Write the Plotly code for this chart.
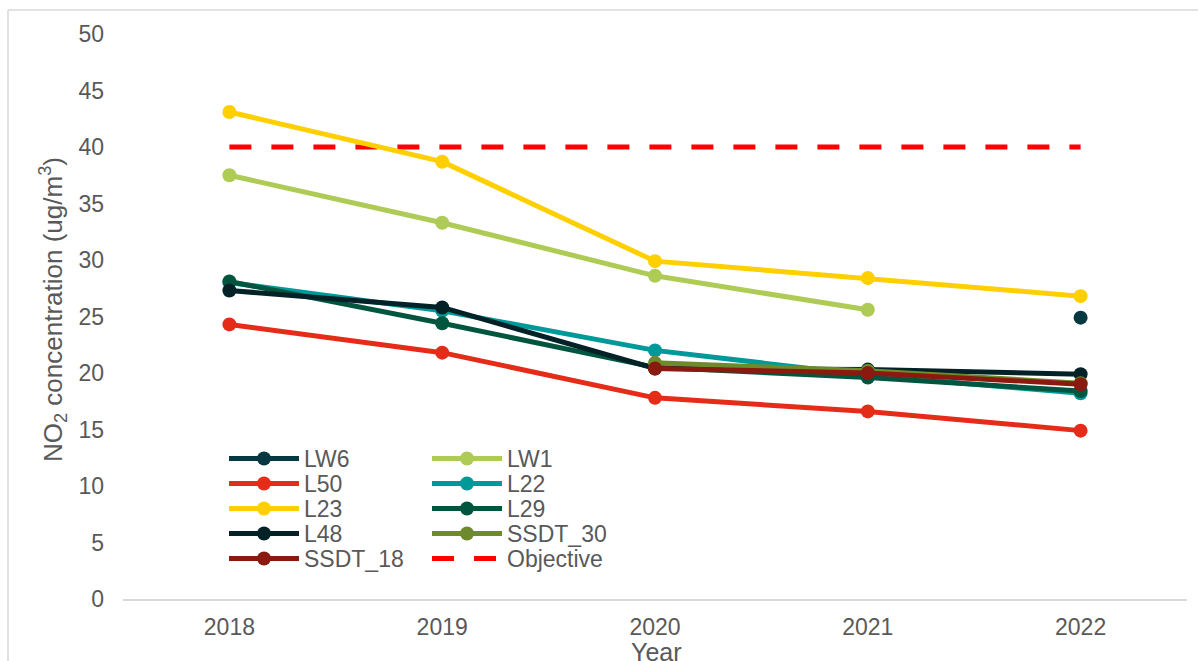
import plotly.graph_objects as go

# Annual mean NO2 at each monitoring site
years = ["2018", "2019", "2020", "2021", "2022"]
lw6 = [None, None, None, None, 24.9]
lw1 = [37.5, 33.3, 28.6, 25.6, None]
l50 = [24.3, 21.8, 17.8, 16.6, 14.9]
l22 = [28.0, 25.5, 22.0, 19.8, 18.2]
l23 = [43.1, 38.7, 29.9, 28.4, 26.8]
l29 = [28.1, 24.4, 20.5, 19.6, 18.4]
l48 = [27.3, 25.8, 20.4, 20.3, 19.9]
ssdt_30 = [None, None, 20.9, 20.2, 19.1]
ssdt_18 = [None, None, 20.4, 20.0, 19.0]
objective = [40, 40, 40, 40, 40]

series = [
    ("LW6", lw6, "#053840"),
    ("LW1", lw1, "#AECB55"),
    ("L50", l50, "#E42C19"),
    ("L22", l22, "#00999A"),
    ("L23", l23, "#FFCF00"),
    ("L29", l29, "#00553F"),
    ("L48", l48, "#022227"),
    ("SSDT_30", ssdt_30, "#6E8B2B"),
    ("SSDT_18", ssdt_18, "#8A1A10"),
]

# two entries per legend row
legend_ids = ["legend", "legend", "legend2", "legend2", "legend3", "legend3",
              "legend4", "legend4", "legend5"]

fig = go.Figure()

# Target line drawn first so the site lines sit over it
fig.add_trace(go.Scatter(
    x=years, y=objective, name="Objective", mode="lines",
    line=dict(color="#FF0000", width=5, dash="22px,20px"),
    legend="legend5", legendrank=1100,
))

for i, (name, vals, col) in enumerate(series):
    fig.add_trace(go.Scatter(
        x=years, y=vals, name=name, mode="lines+markers",
        line=dict(color=col, width=5),
        marker=dict(color=col, size=14),
        legend=legend_ids[i], legendrank=1000 + i,
    ))

W, H = 1198, 661
L, R, T, B = 123, 11, 34, 62
pw, ph = W - L - R, H - T - B


def px_x(px):
    return (px - L) / pw


def px_y(py):
    return (H - B - py) / ph


grey = "#595959"
font = "Liberation Sans, Arial, sans-serif"

legend_style = dict(
    orientation="h", xanchor="left", yanchor="top",
    entrywidth=118, entrywidthmode="pixels", itemwidth=70,
    font=dict(family=font, size=23, color=grey),
    bgcolor="rgba(0,0,0,0)", traceorder="normal",
)
row_centres = [458, 483, 508, 533, 558]
legends = {}
for k, yc in enumerate(row_centres):
    key = "legend" if k == 0 else f"legend{k + 1}"
    legends[key] = dict(legend_style, x=px_x(224), y=px_y(yc - 21))

fig.update_layout(
    width=W, height=H,
    margin=dict(l=L, r=R, t=T, b=B),
    paper_bgcolor="white", plot_bgcolor="white",
    font=dict(family=font, color=grey, size=23),
    showlegend=True,
    xaxis=dict(
        type="category", range=[-0.5, 4.5], showgrid=False, zeroline=False,
        showline=True, linecolor="#D9D9D9", linewidth=1.5,
        ticks="", tickfont=dict(size=23, color=grey), ticklabelstandoff=7,
        fixedrange=True,
    ),
    yaxis=dict(
        range=[0, 50], dtick=5, showgrid=False, zeroline=False, showline=False,
        ticks="", tickfont=dict(size=23, color=grey), ticklabelstandoff=18,
        fixedrange=True,
    ),
    annotations=[
        dict(text="NO<sub>2</sub> concentration (ug/m<sup>3</sup>)", textangle=-90,
             xref="paper", yref="paper", x=px_x(53), y=px_y(310),
             xanchor="center", yanchor="middle", showarrow=False,
             font=dict(family=font, size=26, color=grey)),
        dict(text="Year", xref="paper", yref="paper", x=px_x(656), y=px_y(652),
             xanchor="center", yanchor="middle", showarrow=False,
             font=dict(family=font, size=25, color=grey)),
    ],
    shapes=[
        dict(type="line", xref="paper", yref="paper", x0=px_x(8), x1=px_x(8),
             y0=px_y(700), y1=px_y(10), line=dict(color="#D9D9D9", width=1.5)),
        dict(type="line", xref="paper", yref="paper", x0=px_x(8), x1=px_x(1250),
             y0=px_y(10), y1=px_y(10), line=dict(color="#D9D9D9", width=1.5)),
    ],
    **legends,
)

fig.write_html("out.html")
